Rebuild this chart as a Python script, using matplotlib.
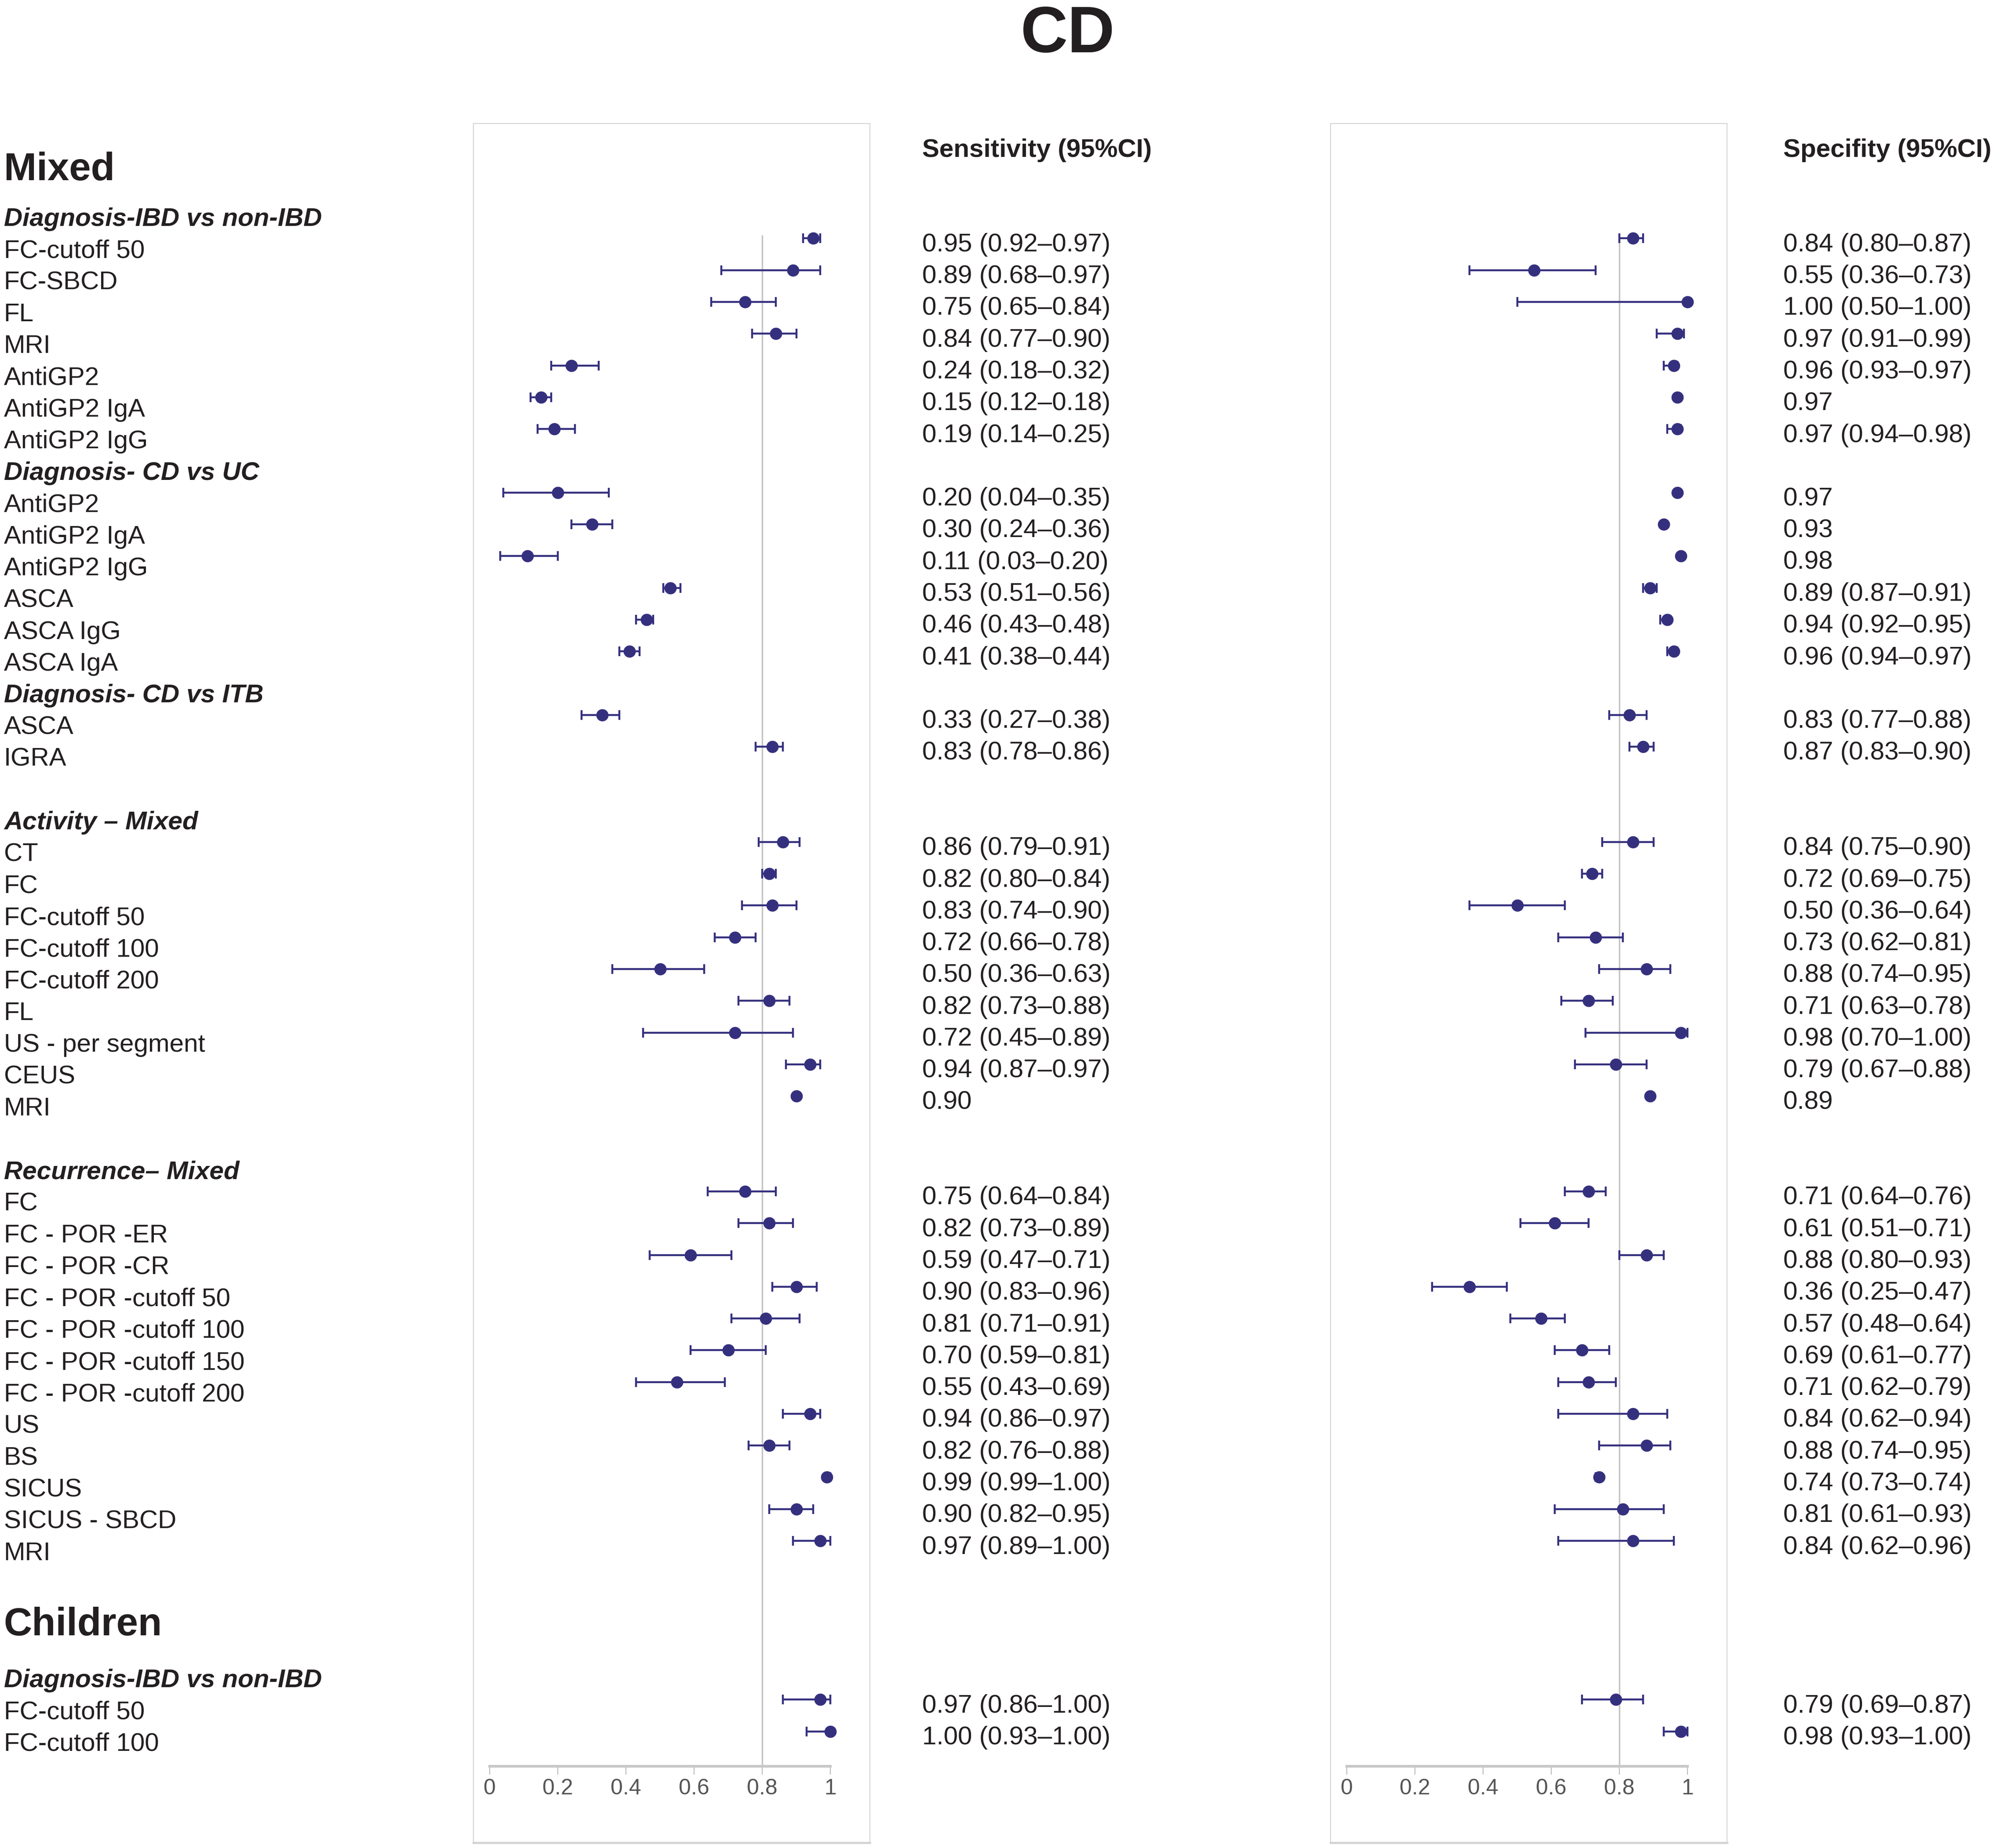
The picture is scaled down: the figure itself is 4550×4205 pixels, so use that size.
import numpy as np
import matplotlib
matplotlib.use("Agg")
from matplotlib import pyplot as plt
from matplotlib.patches import Rectangle
from matplotlib.transforms import blended_transform_factory

plt.rcParams['font.family'] = ['Liberation Sans', 'DejaVu Sans']

# groups of rows
group_titles = ["Diagnosis-IBD vs non-IBD", "Diagnosis- CD vs UC", "Diagnosis- CD vs ITB",
                "Activity \u2013 Mixed", "Recurrence\u2013 Mixed", "Diagnosis-IBD vs non-IBD"]
group_sizes = [7, 6, 2, 9, 12, 2]

item_labels = ["FC-cutoff 50", "FC-SBCD", "FL", "MRI", "AntiGP2", "AntiGP2 IgA", "AntiGP2 IgG",
               "AntiGP2", "AntiGP2 IgA", "AntiGP2 IgG", "ASCA", "ASCA IgG", "ASCA IgA",
               "ASCA", "IGRA",
               "CT", "FC", "FC-cutoff 50", "FC-cutoff 100", "FC-cutoff 200", "FL",
               "US - per segment", "CEUS", "MRI",
               "FC", "FC - POR -ER", "FC - POR -CR", "FC - POR -cutoff 50", "FC - POR -cutoff 100",
               "FC - POR -cutoff 150", "FC - POR -cutoff 200", "US", "BS", "SICUS",
               "SICUS - SBCD", "MRI",
               "FC-cutoff 50", "FC-cutoff 100"]

sens = [0.95, 0.89, 0.75, 0.84, 0.24, 0.15, 0.19,
        0.20, 0.30, 0.11, 0.53, 0.46, 0.41,
        0.33, 0.83,
        0.86, 0.82, 0.83, 0.72, 0.50, 0.82, 0.72, 0.94, 0.90,
        0.75, 0.82, 0.59, 0.90, 0.81, 0.70, 0.55, 0.94, 0.82, 0.99, 0.90, 0.97,
        0.97, 1.00]
sens_lo = [0.92, 0.68, 0.65, 0.77, 0.18, 0.12, 0.14,
           0.04, 0.24, 0.03, 0.51, 0.43, 0.38,
           0.27, 0.78,
           0.79, 0.80, 0.74, 0.66, 0.36, 0.73, 0.45, 0.87, None,
           0.64, 0.73, 0.47, 0.83, 0.71, 0.59, 0.43, 0.86, 0.76, 0.99, 0.82, 0.89,
           0.86, 0.93]
sens_hi = [0.97, 0.97, 0.84, 0.90, 0.32, 0.18, 0.25,
           0.35, 0.36, 0.20, 0.56, 0.48, 0.44,
           0.38, 0.86,
           0.91, 0.84, 0.90, 0.78, 0.63, 0.88, 0.89, 0.97, None,
           0.84, 0.89, 0.71, 0.96, 0.91, 0.81, 0.69, 0.97, 0.88, 1.00, 0.95, 1.00,
           1.00, 1.00]

spec = [0.84, 0.55, 1.00, 0.97, 0.96, 0.97, 0.97,
        0.97, 0.93, 0.98, 0.89, 0.94, 0.96,
        0.83, 0.87,
        0.84, 0.72, 0.50, 0.73, 0.88, 0.71, 0.98, 0.79, 0.89,
        0.71, 0.61, 0.88, 0.36, 0.57, 0.69, 0.71, 0.84, 0.88, 0.74, 0.81, 0.84,
        0.79, 0.98]
spec_lo = [0.80, 0.36, 0.50, 0.91, 0.93, None, 0.94,
           None, None, None, 0.87, 0.92, 0.94,
           0.77, 0.83,
           0.75, 0.69, 0.36, 0.62, 0.74, 0.63, 0.70, 0.67, None,
           0.64, 0.51, 0.80, 0.25, 0.48, 0.61, 0.62, 0.62, 0.74, 0.73, 0.61, 0.62,
           0.69, 0.93]
spec_hi = [0.87, 0.73, 1.00, 0.99, 0.97, None, 0.98,
           None, None, None, 0.91, 0.95, 0.97,
           0.88, 0.90,
           0.90, 0.75, 0.64, 0.81, 0.95, 0.78, 1.00, 0.88, None,
           0.76, 0.71, 0.93, 0.47, 0.64, 0.77, 0.79, 0.94, 0.95, 0.74, 0.93, 0.96,
           0.87, 1.00]

ticks = [0, 0.2, 0.4, 0.6, 0.8, 1]
tick_labels = ["0", "0.2", "0.4", "0.6", "0.8", "1"]

TXT = '#231f20'
DOT = '#35307e'
W, H = 1568.0, 1449.0  # layout units of the page

# row positions
item_rows, head_rows = [], []
row = -1
for g, n in enumerate(group_sizes):
    if g in (3, 4):
        row += 1
    if g == 5:
        row += 3
    head_rows.append(row)
    item_rows.extend(range(row + 1, row + 1 + n))
    row += 1 + n
item_rows = np.array(item_rows)

fig = plt.figure(figsize=(45.5, 42.05), dpi=100)
fig.text(837 / W, 1 - 41 / H, "CD", ha='center', va='baseline', fontsize=107,
         fontweight='bold', color=TXT)


def fmt(v, lo, hi):
    if lo is None:
        return f"{v:.2f}"
    return f"{v:.2f} ({lo:.2f}\u2013{hi:.2f})"


def forest(x_axis, x_box, x_text, title, vals, lo, hi):
    ax = fig.add_axes([x_axis / W, 1 - 1385 / H, 267 / W, (1385 - 97) / H])
    ax.set_xlim(0, 1)
    ax.set_ylim(48.1, -3.61)
    for s in ('top', 'left', 'right'):
        ax.spines[s].set_visible(False)
    ax.spines['bottom'].set_color('#c8c8c8')
    ax.spines['bottom'].set_linewidth(4.4)
    ax.set_yticks([])
    ax.set_xticks(ticks)
    ax.set_xticklabels(tick_labels, fontsize=36, color='#555555')
    ax.tick_params(axis='x', direction='out', length=14, width=1.5, color='#bbbbbb', pad=6)
    ax.patch.set_alpha(0)
    ax.vlines(0.8, -0.1, 48.1, color='#c4c4c4', lw=2.5, zorder=1)

    v = np.array(vals, dtype=float)
    has = np.array([l is not None for l in lo])
    l_ = np.array([l if l is not None else np.nan for l in lo], dtype=float)
    h_ = np.array([h if h is not None else np.nan for h in hi], dtype=float)
    ax.errorbar(v[has], item_rows[has], xerr=[v[has] - l_[has], h_[has] - v[has]],
                fmt='none', ecolor=DOT, elinewidth=3.2, capsize=8, capthick=3.2,
                clip_on=False, zorder=2)
    ax.plot(v, item_rows, 'o', color=DOT, ms=19, clip_on=False, zorder=3)

    tr = blended_transform_factory(fig.transFigure, ax.transData)
    for y, a, b, c in zip(item_rows, vals, lo, hi):
        ax.text(x_text / W, y + 0.2, fmt(a, b, c), transform=tr, fontsize=42,
                va='center', ha='left', color=TXT)
    ax.text(x_text / W, -2.77, title, transform=tr, fontsize=42, fontweight='bold',
            va='center', ha='left', color=TXT)

    fig.add_artist(Rectangle((x_box / W, 1 - 1445 / H), 311 / W, (1445 - 97) / H,
                             transform=fig.transFigure, fill=False,
                             edgecolor='#d4d4d4', lw=1.5))
    fig.add_artist(plt.Line2D([x_box / W, (x_box + 311) / W], [1 - 1445 / H] * 2,
                              transform=fig.transFigure, color='#d4d4d4', lw=3.5))
    return ax, tr


ax1, tr1 = forest(384, 371, 723, "Sensitivity (95%CI)", sens, sens_lo, sens_hi)
ax2, tr2 = forest(1056, 1043, 1398, "Specifity (95%CI)", spec, spec_lo, spec_hi)

# left column labels
x_lab = 3 / W
for y, lab in zip(item_rows, item_labels):
    ax1.text(x_lab, y + 0.4, lab, transform=tr1, fontsize=42, va='center',
             ha='left', color=TXT)
for y, lab in zip(head_rows, group_titles):
    ax1.text(x_lab, y + 0.4, lab, transform=tr1, fontsize=42, va='center',
             ha='left', color=TXT, fontweight='bold', fontstyle='italic')
ax1.text(x_lab, -2.15, "Mixed", transform=tr1, fontsize=64, fontweight='bold',
         va='center', ha='left', color=TXT)
ax1.text(x_lab, 43.65, "Children", transform=tr1, fontsize=64, fontweight='bold',
         va='center', ha='left', color=TXT)

fig.savefig("out.png", dpi=100)
